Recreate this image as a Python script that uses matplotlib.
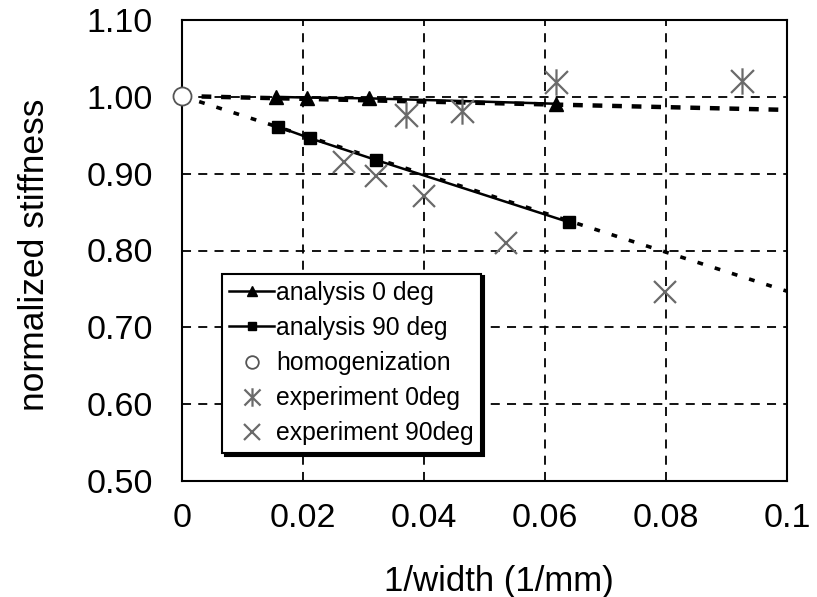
import matplotlib
matplotlib.use("Agg")
import matplotlib.pyplot as plt
from matplotlib.path import Path

plt.rcParams['font.family'] = ['Liberation Sans', 'DejaVu Sans']

# Data
a0_x = [0.0155, 0.0206, 0.0309, 0.0618]
a0_y = [1.000, 0.999, 0.998, 0.991]
a90_x = [0.0159, 0.0212, 0.0320, 0.0639]
a90_y = [0.961, 0.946, 0.918, 0.837]
hom_x = [0.0]
hom_y = [1.001]
e0_x = [0.0370, 0.0463, 0.0618, 0.0926]
e0_y = [0.977, 0.981, 1.019, 1.021]
e90_x = [0.0268, 0.0321, 0.0400, 0.0536, 0.0799]
e90_y = [0.915, 0.897, 0.871, 0.810, 0.746]
trend_x = [0.0, 0.1]
trend0_y = [1.001, 0.983]
trend90_y = [1.001, 0.747]

xticks = [0, 0.02, 0.04, 0.06, 0.08, 0.1]
xticklabels = ['0', '0.02', '0.04', '0.06', '0.08', '0.1']
yticks = [0.50, 0.60, 0.70, 0.80, 0.90, 1.00, 1.10]
yticklabels = ['0.50', '0.60', '0.70', '0.80', '0.90', '1.00', '1.10']

fig = plt.figure(figsize=(8.17, 5.97), dpi=100)
ax = fig.add_axes([182/817, 1-481/597, (787-182)/817, (481-20)/597])

ax.set_xlim(0, 0.1)
ax.set_ylim(0.5, 1.1)

ax.grid(True, color='black', linestyle=(0, (5, 4)), linewidth=1.3)
ax.set_axisbelow(True)

# trend lines
ax.plot(trend_x, trend0_y, color='black', linestyle=(0, (2.2, 2.2)), linewidth=3.2, zorder=2)
ax.plot(trend_x, trend90_y, color='black', linestyle=(0, (1.6, 3.4)), linewidth=2.6, zorder=2)

asterisk = Path([(-1, -1), (1, 1), (-1, 1), (1, -1), (0, -1.15), (0, 1.15)],
                [Path.MOVETO, Path.LINETO, Path.MOVETO, Path.LINETO, Path.MOVETO, Path.LINETO])

l1, = ax.plot(a0_x, a0_y, color='black', marker='^', markersize=10, linewidth=1.8,
              label='analysis 0 deg', zorder=4)
l2, = ax.plot(a90_x, a90_y, color='black', marker='s', markersize=9, linewidth=1.8,
              label='analysis 90 deg', zorder=4)
l3, = ax.plot(hom_x, hom_y, linestyle='none', marker='o', markersize=13,
              markerfacecolor='white', markeredgecolor='#555555', markeredgewidth=1.3,
              label='homogenization', zorder=5, clip_on=False)
l4, = ax.plot(e0_x, e0_y, linestyle='none', marker=asterisk, markersize=19,
              markeredgecolor='#6a6a6a', markerfacecolor='none', markeredgewidth=1.6,
              label='experiment 0deg', zorder=4)
l5, = ax.plot(e90_x, e90_y, linestyle='none', marker='x', markersize=16,
              markeredgecolor='#6a6a6a', markeredgewidth=1.6,
              label='experiment 90deg', zorder=4)

for s in ax.spines.values():
    s.set_linewidth(1.5)
    s.set_color('black')

ax.set_xticks(xticks)
ax.set_xticklabels(xticklabels)
ax.set_yticks(yticks)
ax.set_yticklabels(yticklabels)
ax.tick_params(axis='both', length=0, labelsize=24.5)
ax.tick_params(axis='x', pad=16)
ax.tick_params(axis='y', pad=21)

ax.set_xlabel('1/width (1/mm)', fontsize=25)
ax.set_ylabel('normalized stiffness', fontsize=25.5)
ax.xaxis.set_label_coords(0.524, -0.182)
ax.yaxis.set_label_coords(-0.216, 0.49)

leg = ax.legend(handles=[l1, l2, l3, l4, l5], loc='lower left',
                bbox_to_anchor=(0.066, 0.061), fontsize=17.8, frameon=True,
                fancybox=False, shadow={'color': 'black', 'alpha': 1.0},
                framealpha=1, edgecolor='black', borderpad=0.3,
                labelspacing=0.45, handlelength=1.8, handletextpad=0.1,
                markerscale=0.7, borderaxespad=0)
leg.get_frame().set_linewidth(1.5)
leg.set_zorder(10)

fig.savefig('out.png', dpi=100, facecolor='white')
